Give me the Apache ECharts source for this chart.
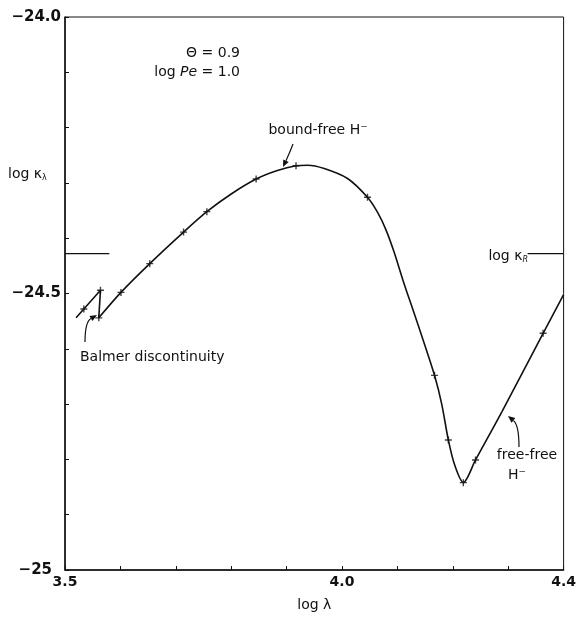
<!DOCTYPE html>
<html>
<head>
<meta charset="utf-8">
<script src="https://cdn.jsdelivr.net/npm/echarts@6/dist/echarts.min.js"></script>
<style>
html,body{margin:0;padding:0;background:#fff;}
#chart{width:579px;height:617px;}
</style>
</head>
<body>
<div id="chart"></div>
<script>
// ---- data ----
var balmerX = [3.520, 3.534, 3.564, 3.561];
var balmerY = [-24.544, -24.528, -24.494, -24.544];

var curveX = [3.561, 3.601, 3.653, 3.714, 3.756, 3.800, 3.845, 3.882, 3.917, 3.938, 3.968, 4.010, 4.046, 4.064, 4.079, 4.094, 4.111, 4.129, 4.147, 4.167, 4.180, 4.192, 4.204, 4.219, 4.241, 4.289, 4.363, 4.400];
var curveY = [-24.544, -24.498, -24.446, -24.389, -24.352, -24.320, -24.293, -24.278, -24.269, -24.268, -24.274, -24.292, -24.326, -24.353, -24.384, -24.425, -24.479, -24.532, -24.586, -24.648, -24.700, -24.765, -24.812, -24.842, -24.801, -24.713, -24.572, -24.502];

var markerX = [3.534, 3.564, 3.561, 3.601, 3.653, 3.714, 3.756, 3.845, 3.917, 4.046, 4.167, 4.192, 4.219, 4.241, 4.363];
var markerY = [-24.528, -24.494, -24.544, -24.498, -24.446, -24.389, -24.352, -24.293, -24.269, -24.326, -24.648, -24.765, -24.842, -24.801, -24.572];

var logKappaR = -24.428;
var kRLeftX = [3.500, 3.580];
var kRRightX = [4.335, 4.400];

var xLabelValues = [3.5, 4.0, 4.4];
var xLabelTexts = ['3.5', '4.0', '4.4'];
var yLabelValues = [-25, -24.5, -24];
var yLabelTexts = ['{p|\u221225}', '\u221224.5', '\u221224.0'];

function zip(a, b) { return a.map(function (v, i) { return [v, b[i]]; }); }
function labelFor(v, vals, texts) {
  for (var i = 0; i < vals.length; i++) {
    if (Math.abs(v - vals[i]) < 1e-6) return texts[i];
  }
  return '';
}

var FONT = "'DejaVu Sans', 'Liberation Sans', Arial, sans-serif";
var INK = '#111';

var chart = echarts.init(document.getElementById('chart'), null, {renderer: 'canvas'});

function arrow(p0, cp, p1) {
  var dx = p1[0] - cp[0], dy = p1[1] - cp[1];
  var L = Math.sqrt(dx * dx + dy * dy);
  var ux = dx / L, uy = dy / L;
  var hl = 7, hw = 3;
  var bx = p1[0] - ux * hl, by = p1[1] - uy * hl;
  return [
    {type: 'bezierCurve', shape: {x1: p0[0], y1: p0[1], cpx1: cp[0], cpy1: cp[1], x2: bx, y2: by},
     style: {stroke: INK, lineWidth: 1.2, fill: null}, z: 10},
    {type: 'polygon', shape: {points: [[p1[0], p1[1]], [bx - uy * hw, by + ux * hw], [bx + uy * hw, by - ux * hw]]},
     style: {fill: INK}, z: 10}
  ];
}

var graphics = [];
graphics.push({type: 'text', left: 8, top: 167, style: {
  text: 'log \u03ba{s|\u03bb}', font: '14px ' + FONT, fill: INK,
  rich: {s: {fontSize: 8, fontFamily: FONT, padding: [7, 0, 0, 0], fill: INK}}
}});
graphics.push({type: 'text', x: 240, y: 53, style: {
  text: '\u0398 = 0.9', font: '14px ' + FONT, fill: INK, align: 'right', verticalAlign: 'middle'
}});
graphics.push({type: 'text', x: 240, y: 72, style: {
  text: 'log {i|Pe} = 1.0', font: '14px ' + FONT, fill: INK, align: 'right', verticalAlign: 'middle',
  rich: {i: {fontSize: 14, fontStyle: 'italic', fontFamily: FONT, fill: INK}}
}});
graphics.push({type: 'text', x: 318, y: 130, style: {
  text: 'bound-free H\u207b', font: '14px ' + FONT, fill: INK, align: 'center', verticalAlign: 'middle'
}});
graphics.push({type: 'text', x: 80, y: 357, style: {
  text: 'Balmer discontinuity', font: '14px ' + FONT, fill: INK, align: 'left', verticalAlign: 'middle'
}});
graphics.push({type: 'text', x: 527, y: 455, style: {
  text: 'free-free', font: '14px ' + FONT, fill: INK, align: 'center', verticalAlign: 'middle'
}});
graphics.push({type: 'text', x: 517, y: 475, style: {
  text: 'H\u207b', font: '14px ' + FONT, fill: INK, align: 'center', verticalAlign: 'middle'
}});
graphics.push({type: 'text', x: 528, y: 256, style: {
  text: 'log \u03ba{s|R}', font: '14px ' + FONT, fill: INK, align: 'right', verticalAlign: 'middle',
  rich: {s: {fontSize: 8, fontStyle: 'italic', fontFamily: FONT, padding: [7, 0, 0, 0], fill: INK}}
}});
graphics = graphics.concat(arrow([293, 144], [290, 152], [283, 167]));
graphics = graphics.concat(arrow([85, 342], [85, 322], [97, 315]));
graphics = graphics.concat(arrow([519, 447], [519, 425], [508, 416]));

var option = {
  animation: false,
  backgroundColor: '#fff',
  grid: {left: 65, right: 11, top: 17, bottom: 42, show: true, borderColor: INK, borderWidth: 1},
  xAxis: {
    type: 'value', min: 3.5, max: 4.4, interval: 0.1,
    name: 'log \u03bb', nameLocation: 'middle', nameGap: 28,
    nameTextStyle: {fontFamily: FONT, fontSize: 14, color: INK},
    axisLine: {show: true, onZero: false, lineStyle: {color: INK, width: 1.5}},
    axisTick: {show: true, inside: true, length: 4, lineStyle: {color: INK}},
    splitLine: {show: false},
    axisLabel: {
      margin: 5, fontFamily: FONT, fontSize: 14, fontWeight: 'bold', color: INK,
      showMinLabel: true, showMaxLabel: true,
      formatter: function (v) { return labelFor(v, xLabelValues, xLabelTexts); }
    }
  },
  yAxis: {
    type: 'value', min: -25, max: -24, interval: 0.1,
    axisLine: {show: true, onZero: false, lineStyle: {color: INK, width: 1.5}},
    axisTick: {show: true, inside: true, length: 4, lineStyle: {color: INK}},
    splitLine: {show: false},
    axisLabel: {
      margin: 4, fontFamily: FONT, fontSize: 15, fontWeight: 'bold', color: INK,
      showMinLabel: true, showMaxLabel: true,
      formatter: function (v) { return labelFor(v, yLabelValues, yLabelTexts); },
      rich: {p: {fontFamily: FONT, fontSize: 15, fontWeight: 'bold', color: INK, padding: [0, 9, 0, 0]}}
    }
  },
  graphic: graphics,
  series: [
    {
      type: 'line', name: 'balmer', data: zip(balmerX, balmerY), smooth: false,
      showSymbol: false, symbol: 'none', lineStyle: {color: INK, width: 1.6}
    },
    {
      type: 'line', name: 'kappa', data: zip(curveX, curveY), smooth: 0.3,
      showSymbol: false, symbol: 'none', lineStyle: {color: INK, width: 1.6}
    },
    {
      type: 'scatter', name: 'markers', data: zip(markerX, markerY),
      symbol: 'path://M4,0H6V4H10V6H6V10H4V6H0V4H4Z', symbolSize: 7,
      itemStyle: {color: INK}
    },
    {
      type: 'line', name: 'kRleft', data: zip(kRLeftX, [logKappaR, logKappaR]),
      showSymbol: false, symbol: 'none', lineStyle: {color: INK, width: 1.2}
    },
    {
      type: 'line', name: 'kRright', data: zip(kRRightX, [logKappaR, logKappaR]),
      showSymbol: false, symbol: 'none', lineStyle: {color: INK, width: 1.2}
    }
  ]
};
chart.setOption(option);
</script>
</body>
</html>
